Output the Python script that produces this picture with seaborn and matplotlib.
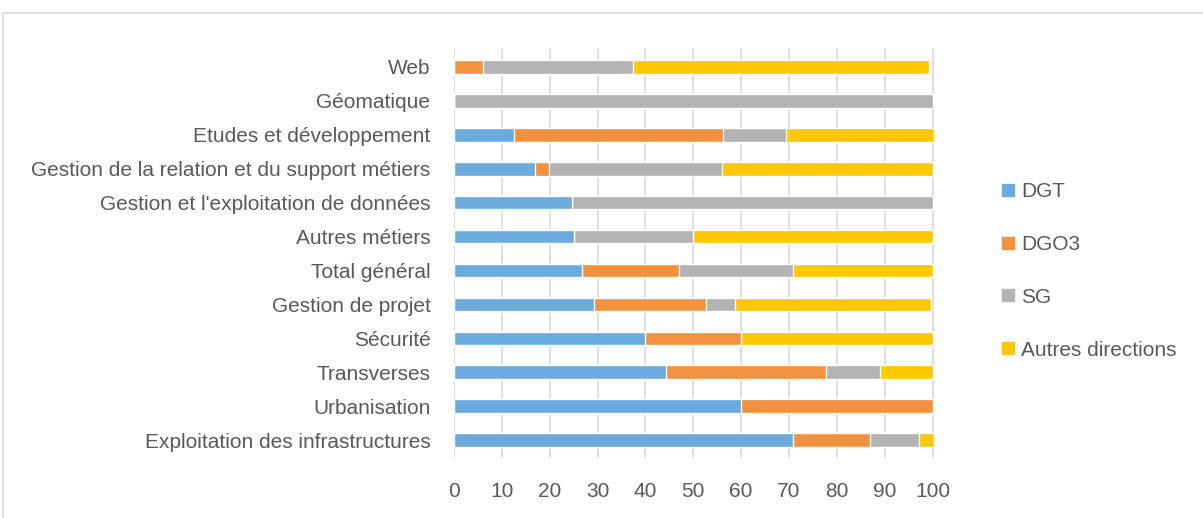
import numpy as np
import pandas as pd
import seaborn as sns
import matplotlib.pyplot as plt
from matplotlib.lines import Line2D

# categories, top to bottom
categories = ['Web', 'Géomatique', 'Etudes et développement',
              'Gestion de la relation et du support métiers',
              "Gestion et l'exploitation de données", 'Autres métiers',
              'Total général', 'Gestion de projet', 'Sécurité', 'Transverses',
              'Urbanisation', 'Exploitation des infrastructures']

# percentages per direction
dgt = [0, 0, 12.5, 16.9, 24.7, 25.0, 26.7, 29.3, 39.9, 44.2, 60.0, 70.9]
dgo3 = [6.0, 0, 43.8, 3.0, 0, 0, 20.3, 23.4, 20.0, 33.5, 40.0, 16.0]
sg = [31.4, 100.0, 13.1, 36.0, 75.3, 25.0, 23.9, 6.0, 0, 11.3, 0, 10.3]
autres = [61.9, 0, 31.0, 44.1, 0, 50.0, 29.1, 41.0, 40.1, 11.0, 0, 3.2]

series = ['DGT', 'DGO3', 'SG', 'Autres directions']
colors = ['#6aaadc', '#f29240', '#b3b3b3', '#ffc800']

df = pd.DataFrame({'cat': categories, 'DGT': dgt, 'DGO3': dgo3,
                   'SG': sg, 'Autres directions': autres})
cum = df[series].cumsum(axis=1)

sns.set_theme(style='white')
plt.rcParams['font.family'] = ['Liberation Sans', 'DejaVu Sans']
txt = '#595959'
fs = 15

fig = plt.figure(figsize=(12.03, 5.18), dpi=100)
ax = fig.add_axes([0.3774, 0.1158, 0.3998, 0.7896])

# stacked bars: draw cumulative totals from the last series back to the first
for s, c in zip(series[::-1], colors[::-1]):
    sns.barplot(x=cum[s], y=df['cat'], orient='h', color=c, width=0.4,
                saturation=1, ax=ax, zorder=3)

ax.set_xlim(0, 100.5)
ax.set_ylim(11.53, -0.53)
ax.set_xticks(np.arange(0, 101, 10))
ax.grid(axis='x', color='#d9d9d9', lw=1.2, zorder=0)
ax.grid(axis='y', visible=False)
for sp in ax.spines.values():
    sp.set_visible(False)
ax.set_xlabel('')
ax.set_ylabel('')
ax.tick_params(axis='y', length=0, pad=17, labelsize=fs, labelcolor=txt)
ax.tick_params(axis='x', length=0, pad=17, labelsize=fs, labelcolor=txt)

handles = [Line2D([], [], marker='s', ls='', color=c, markersize=8)
           for c in colors]
fig.legend(handles, series, loc='center left',
           bbox_to_anchor=(0.814, 0.477), frameon=False, fontsize=fs,
           labelcolor=txt, labelspacing=1.62, handletextpad=0.1,
           handlelength=1.0)

# outer chart frame
fig.add_artist(Line2D([3 / 1203, 1], [1 - 13 / 518, 1 - 13 / 518],
                      color='#d9d9d9', lw=1.2, transform=fig.transFigure))
fig.add_artist(Line2D([3 / 1203, 3 / 1203], [0, 1 - 13 / 518],
                      color='#d9d9d9', lw=1.2, transform=fig.transFigure))

fig.savefig('out.png', dpi=100)
